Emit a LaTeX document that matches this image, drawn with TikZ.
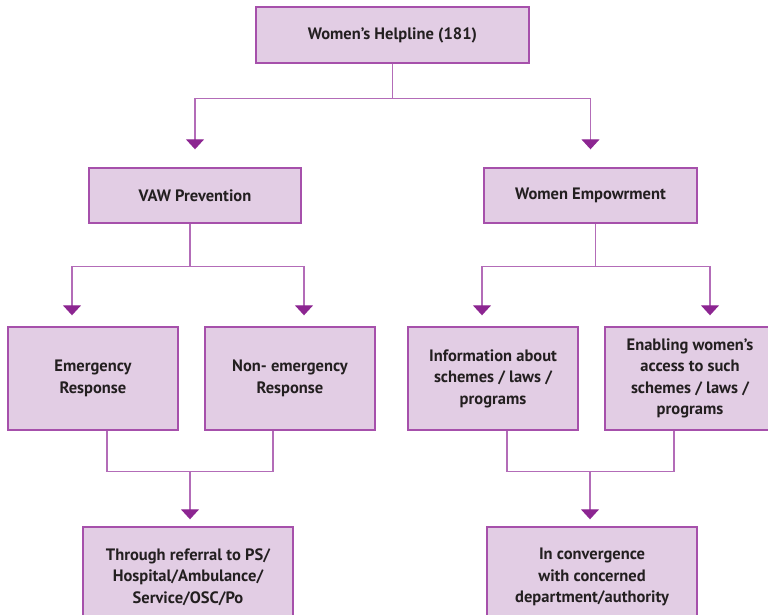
\documentclass[tikz,border=0pt]{standalone}
\usepackage{fontspec}
\setmainfont{PT Sans}
\usepackage{tikz}
\usetikzlibrary{positioning, arrows.meta, calc}

\definecolor{boxfill}{HTML}{E2CDE4}
\definecolor{boxline}{HTML}{A650AB}
\definecolor{linkline}{HTML}{B36CB8}
\definecolor{tipfill}{HTML}{8C2591}
\definecolor{textgray}{HTML}{231F20}

\begin{document}
\begin{tikzpicture}[
    x=1pt, y=-1pt,
    font=\fontsize{16.5}{21.5}\selectfont\bfseries,
    box/.style={draw=boxline, line width=1.4pt, fill=boxfill, text=textgray,
        align=center, inner sep=2pt},
    bigbox/.style={box, minimum width=170pt, minimum height=103pt},
    link/.style={draw=linkline, line width=1.3pt},
    arr/.style={link, -{Triangle[width=18pt, length=10pt, color=tipfill]}}
]

% Page frame (the lowest boxes and the right box run off the page)
\useasboundingbox (0,0) rectangle (768,615);
\clip (0,0) rectangle (768,615);

% ==========================================
% Top level
\node[box, minimum width=273pt, minimum height=56pt] (helpline) at (392.5,35)
    {Women’s Helpline (181)};

% ==========================================
% Second level
\node[box, minimum width=212pt, minimum height=55pt] (vaw) at (195,195.5)
    {VAW Prevention};
\node[box, minimum width=213pt, minimum height=55pt] (empower) at (590.5,195.5)
    {Women Empowrment};

\draw[arr, shorten >=18pt] (helpline.south) -- ++(0,35) -| (vaw.north);
\draw[arr, shorten >=18pt] (helpline.south) -- ++(0,35) -| (empower.north);

% ==========================================
% Third level
\node[bigbox] (emerg) at (93,378.5) {Emergency\\Response};
\node[bigbox] (nonemerg) at (290,378.5) {\raisebox{-4pt}{Non- emergency}\\\raisebox{-4pt}{Response}};
\node[bigbox] (info) at (493,378.5) {Information about\\schemes / laws /\\programs};
\node[bigbox] (enable) at (690,378.5) {Enabling women’s\\access to such\\schemes / laws /\\programs};

\draw[arr, shorten >=11pt] ($(vaw.south)+(-5,0)$) -- ++(0,43) -| ($(emerg.north)+(-21,0)$);
\draw[arr, shorten >=11pt] ($(vaw.south)+(-5,0)$) -- ++(0,43) -| ($(nonemerg.north)+(14,0)$);
\draw[arr, shorten >=11pt] ($(empower.south)+(5,0)$) -- ++(0,43) -| ($(info.north)+(-11,0)$);
\draw[arr, shorten >=11pt] ($(empower.south)+(5,0)$) -- ++(0,43) -| ($(enable.north)+(20,0)$);

% ==========================================
% Bottom level
\node[box, minimum width=210pt, minimum height=100pt] (referral) at (188,577)
    {Through referral to PS/\\Hospital/Ambulance/\\Service/OSC/Po};
\node[box, minimum width=210pt, minimum height=100pt] (converge) at (592,577)
    {In convergence\\with concerned\\department/authority};

\draw[link] ($(emerg.south)+(14,0)$) -- ++(0,41) -| ($(nonemerg.south)+(-17,0)$);
\draw[link] ($(info.south)+(14,0)$) -- ++(0,41) -| ($(enable.south)+(-16,0)$);

\coordinate (joinL) at (190,471);
\coordinate (joinR) at (590,471);
\draw[arr, shorten >=7pt] (joinL) -- (joinL |- referral.north);
\draw[arr, shorten >=7pt] (joinR) -- (joinR |- converge.north);

\end{tikzpicture}
\end{document}
